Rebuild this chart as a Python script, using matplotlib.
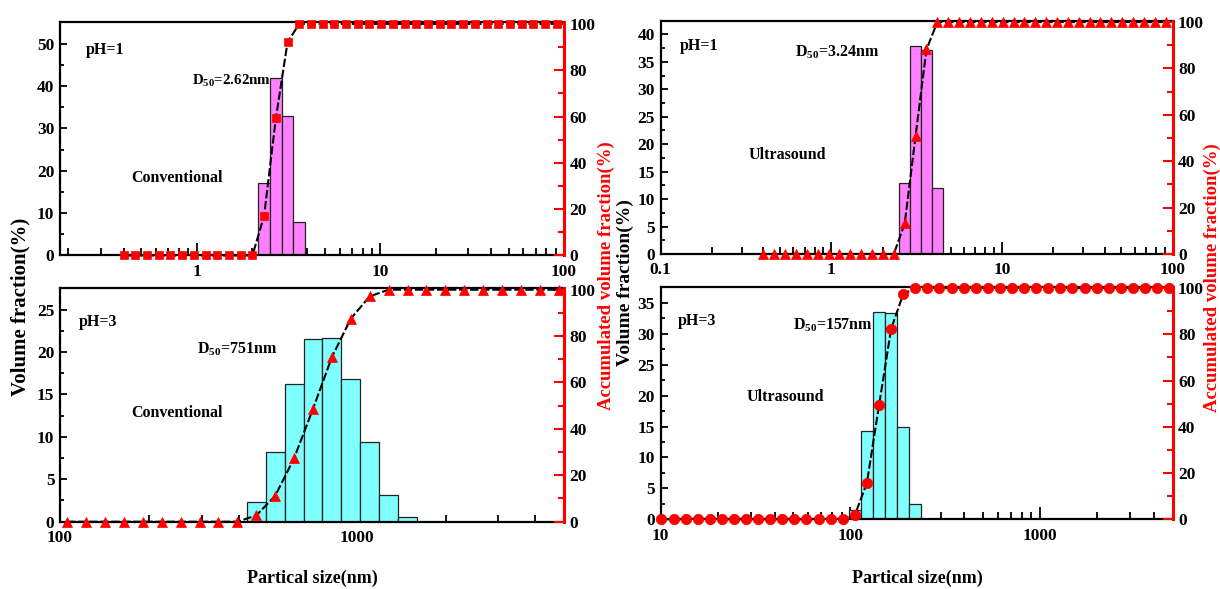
import numpy as np
import matplotlib
matplotlib.use('Agg')
import matplotlib.pyplot as plt
from matplotlib.ticker import MultipleLocator, LogLocator, FuncFormatter, NullFormatter

plt.rcParams['font.family'] = ['Liberation Serif', 'DejaVu Serif']
plt.rcParams['font.weight'] = 'bold'
plt.rcParams['mathtext.default'] = 'regular'

# Size classes (nm) of the particle-size analyser
SIZES = [0.4000, 0.4632, 0.5365, 0.6213, 0.7195, 0.8332, 0.9649, 1.117, 1.294, 1.499,
         1.736, 2.010, 2.328, 2.696, 3.122, 3.615, 4.187, 4.849, 5.615, 6.503,
         7.531, 8.721, 10.10, 11.70, 13.54, 15.69, 18.17, 21.04, 24.36, 28.21,
         32.67, 37.84, 43.82, 50.75, 58.77, 68.06, 78.82, 91.28, 105.7, 122.4,
         141.8, 164.2, 190.1, 220.2, 255.0, 295.3, 342.0, 396.1, 458.7, 531.2,
         615.1, 712.4, 825.0, 955.4, 1106, 1281, 1484, 1718, 1990, 2305,
         2669, 3091, 3580, 4145, 4801, 5560, 6439, 7456, 8635, 10000]

# pH=1, conventional
tl_bar_x = [2.328, 2.696, 3.122, 3.615]
tl_bar_v = [17.2, 42.0, 32.9, 7.9]
tl_cum_x = SIZES[0:38]
tl_cum_v = [0, 0, 0, 0, 0, 0, 0, 0, 0, 0, 0, 0,
            17.2, 59.2, 92.1,
            100, 100, 100, 100, 100, 100, 100, 100, 100, 100, 100, 100,
            100, 100, 100, 100, 100, 100, 100, 100, 100, 100, 100]

# pH=1, ultrasound
tr_bar_x = [2.696, 3.122, 3.615, 4.187]
tr_bar_v = [12.9, 37.9, 37.1, 12.1]
tr_cum_x = SIZES[0:38]
tr_cum_v = [0, 0, 0, 0, 0, 0, 0, 0, 0, 0, 0, 0, 0,
            13.2, 51.0, 88.2,
            100, 100, 100, 100, 100, 100, 100, 100, 100, 100, 100,
            100, 100, 100, 100, 100, 100, 100, 100, 100, 100, 100]

# pH=3, conventional
bl_bar_x = [458.7, 531.2, 615.1, 712.4, 825.0, 955.4, 1106, 1281, 1484]
bl_bar_v = [2.3, 8.2, 16.2, 21.5, 21.6, 16.8, 9.4, 3.2, 0.5]
bl_cum_x = SIZES[38:65]
bl_cum_v = [0, 0, 0, 0, 0, 0, 0, 0, 0, 0,
            2.7, 11.1, 27.3, 48.6, 70.9, 87.5, 97.1,
            100, 100, 100, 100, 100, 100, 100, 100, 100, 100]

# pH=3, ultrasound
br_bar_x = [105.7, 122.4, 141.8, 164.2, 190.1, 220.2]
br_bar_v = [1.5, 14.2, 33.5, 33.3, 15.0, 2.5]
br_cum_x = SIZES[22:65]
br_cum_v = [0, 0, 0, 0, 0, 0, 0, 0, 0, 0, 0, 0, 0, 0, 0, 0,
            1.8, 15.8, 49.3, 82.3, 97.4,
            100, 100, 100, 100, 100, 100, 100, 100, 100, 100, 100,
            100, 100, 100, 100, 100, 100, 100, 100, 100, 100, 100]

W, H = 1220, 589
fig = plt.figure(figsize=(W / 100, H / 100), dpi=100)

TICK_FS = 12.5
TEXT_FS = 11.5


def rect(x0, x1, ytop, ybot):
    return [x0 / W, 1 - ybot / H, (x1 - x0) / W, (ybot - ytop) / H]


def fmt(v, p):
    return f'{v:g}'


def panel(r, bar_x, bar_v, cum_x, cum_v, color, marker, ms, xlim, ytop,
          ymaj, ymin, texts):
    ax = fig.add_axes(r)
    lefts, widths = [], []
    for x in bar_x:
        i = SIZES.index(x)
        lo = np.sqrt(SIZES[i - 1] * x)
        hi = np.sqrt(x * SIZES[i + 1])
        lefts.append(lo)
        widths.append(hi - lo)
    ax.bar(lefts, bar_v, width=widths, align='edge', color=color,
           edgecolor='#222222', linewidth=0.9, zorder=2)
    ax.set_xscale('log')
    ax.set_xlim(*xlim)
    ax.set_ylim(0, ytop)
    ax.yaxis.set_major_locator(MultipleLocator(ymaj))
    ax.yaxis.set_minor_locator(MultipleLocator(ymin))
    ax.xaxis.set_major_locator(LogLocator(base=10, numticks=12))
    ax.xaxis.set_minor_locator(LogLocator(base=10, subs=np.arange(2, 10), numticks=12))
    ax.xaxis.set_major_formatter(FuncFormatter(fmt))
    ax.xaxis.set_minor_formatter(NullFormatter())
    ax.tick_params(axis='both', which='both', direction='in', labelsize=TICK_FS,
                   top=False, right=False, width=1.3, colors='black')
    ax.tick_params(axis='x', which='major', length=9, pad=6)
    ax.tick_params(axis='x', which='minor', length=5)
    ax.tick_params(axis='y', which='major', length=5, pad=4)
    ax.tick_params(axis='y', which='minor', length=3)
    for s in ['left', 'bottom', 'top']:
        ax.spines[s].set_linewidth(1.6)
        ax.spines[s].set_color('black')
    ax.spines['right'].set_visible(False)

    ax2 = ax.twinx()
    ax2.plot(cum_x, cum_v, color='black', linestyle=(0, (4, 1.3)), lw=1.5,
             marker=marker, ms=ms, mfc='red', mec='red', mew=0.5,
             clip_on=False, zorder=3)
    ax2.set_ylim(0, 100.6)
    ax2.yaxis.set_major_locator(MultipleLocator(20))
    ax2.yaxis.set_minor_locator(MultipleLocator(10))
    ax2.tick_params(axis='y', which='both', direction='in', colors='red',
                    labelcolor='black', labelsize=TICK_FS, width=1.5)
    ax2.tick_params(axis='y', which='major', length=7, pad=4)
    ax2.tick_params(axis='y', which='minor', length=4)
    for s in ['left', 'bottom', 'top']:
        ax2.spines[s].set_visible(False)
    ax2.spines['right'].set_color('red')
    ax2.spines['right'].set_linewidth(2.2)

    for (tx, ty, s, fs) in texts:
        ax.text(tx, ty, s, transform=ax.transAxes, ha='left', va='baseline',
                fontsize=fs, fontweight='bold', zorder=5)
    return ax, ax2


panel(rect(60, 564, 22.5, 255.5), tl_bar_x, tl_bar_v, tl_cum_x, tl_cum_v,
      '#FF80FF', 's', 5.6, (0.18, 100), 55, 10, 5,
      [(0.052, 0.8635, 'pH=1', TEXT_FS), (0.262, 0.732, 'D$_{50}$=2.62nm', 10.8),
       (0.142, 0.317, 'Conventional', TEXT_FS)])

panel(rect(60, 564, 288.3, 521.7), bl_bar_x, bl_bar_v, bl_cum_x, bl_cum_v,
      '#80FFFF', '^', 7.5, (100, 5000), 27.5, 5, 2.5,
      [(0.037, 0.8385, 'pH=3', TEXT_FS), (0.271, 0.7185, 'D$_{50}$=751nm', TEXT_FS),
       (0.142, 0.45, 'Conventional', TEXT_FS)])

panel(rect(660.6, 1172.5, 20.7, 254), tr_bar_x, tr_bar_v, tr_cum_x, tr_cum_v,
      '#FF80FF', '^', 7.5, (0.1, 100), 42.5, 5, 2.5,
      [(0.038, 0.874, 'pH=1', TEXT_FS), (0.262, 0.846, 'D$_{50}$=3.24nm', TEXT_FS),
       (0.171, 0.4085, 'Ultrasound', TEXT_FS)])

panel(rect(660.6, 1172.5, 286.7, 519.3), br_bar_x, br_bar_v, br_cum_x, br_cum_v,
      '#80FFFF', 'o', 7.5, (10, 5000), 37.6, 5, 2.5,
      [(0.034, 0.835, 'pH=3', TEXT_FS), (0.259, 0.817, 'D$_{50}$=157nm', TEXT_FS),
       (0.167, 0.51, 'Ultrasound', TEXT_FS)])

fig.text(20 / W, 1 - 307 / H, 'Volume fraction(%)', rotation=90, ha='center',
         va='center', fontsize=15, fontweight='bold', color='black')
fig.text(606 / W, 1 - 276 / H, 'Accumulated volume fraction(%)', rotation=90,
         ha='center', va='center', fontsize=13.5, fontweight='bold', color='red')
fig.text(625 / W, 1 - 283 / H, 'Volume fraction(%)', rotation=90, ha='center',
         va='center', fontsize=14, fontweight='bold', color='black')
fig.text(1212 / W, 1 - 278 / H, 'Accumulated volume fraction(%)', rotation=90,
         ha='center', va='center', fontsize=13.5, fontweight='bold', color='red')

fig.text(312 / W, 1 - 583 / H, 'Partical size(nm)', ha='center', va='baseline',
         fontsize=13, fontweight='bold')
fig.text(917 / W, 1 - 583 / H, 'Partical size(nm)', ha='center', va='baseline',
         fontsize=13, fontweight='bold')

fig.savefig('out.png', dpi=100)
